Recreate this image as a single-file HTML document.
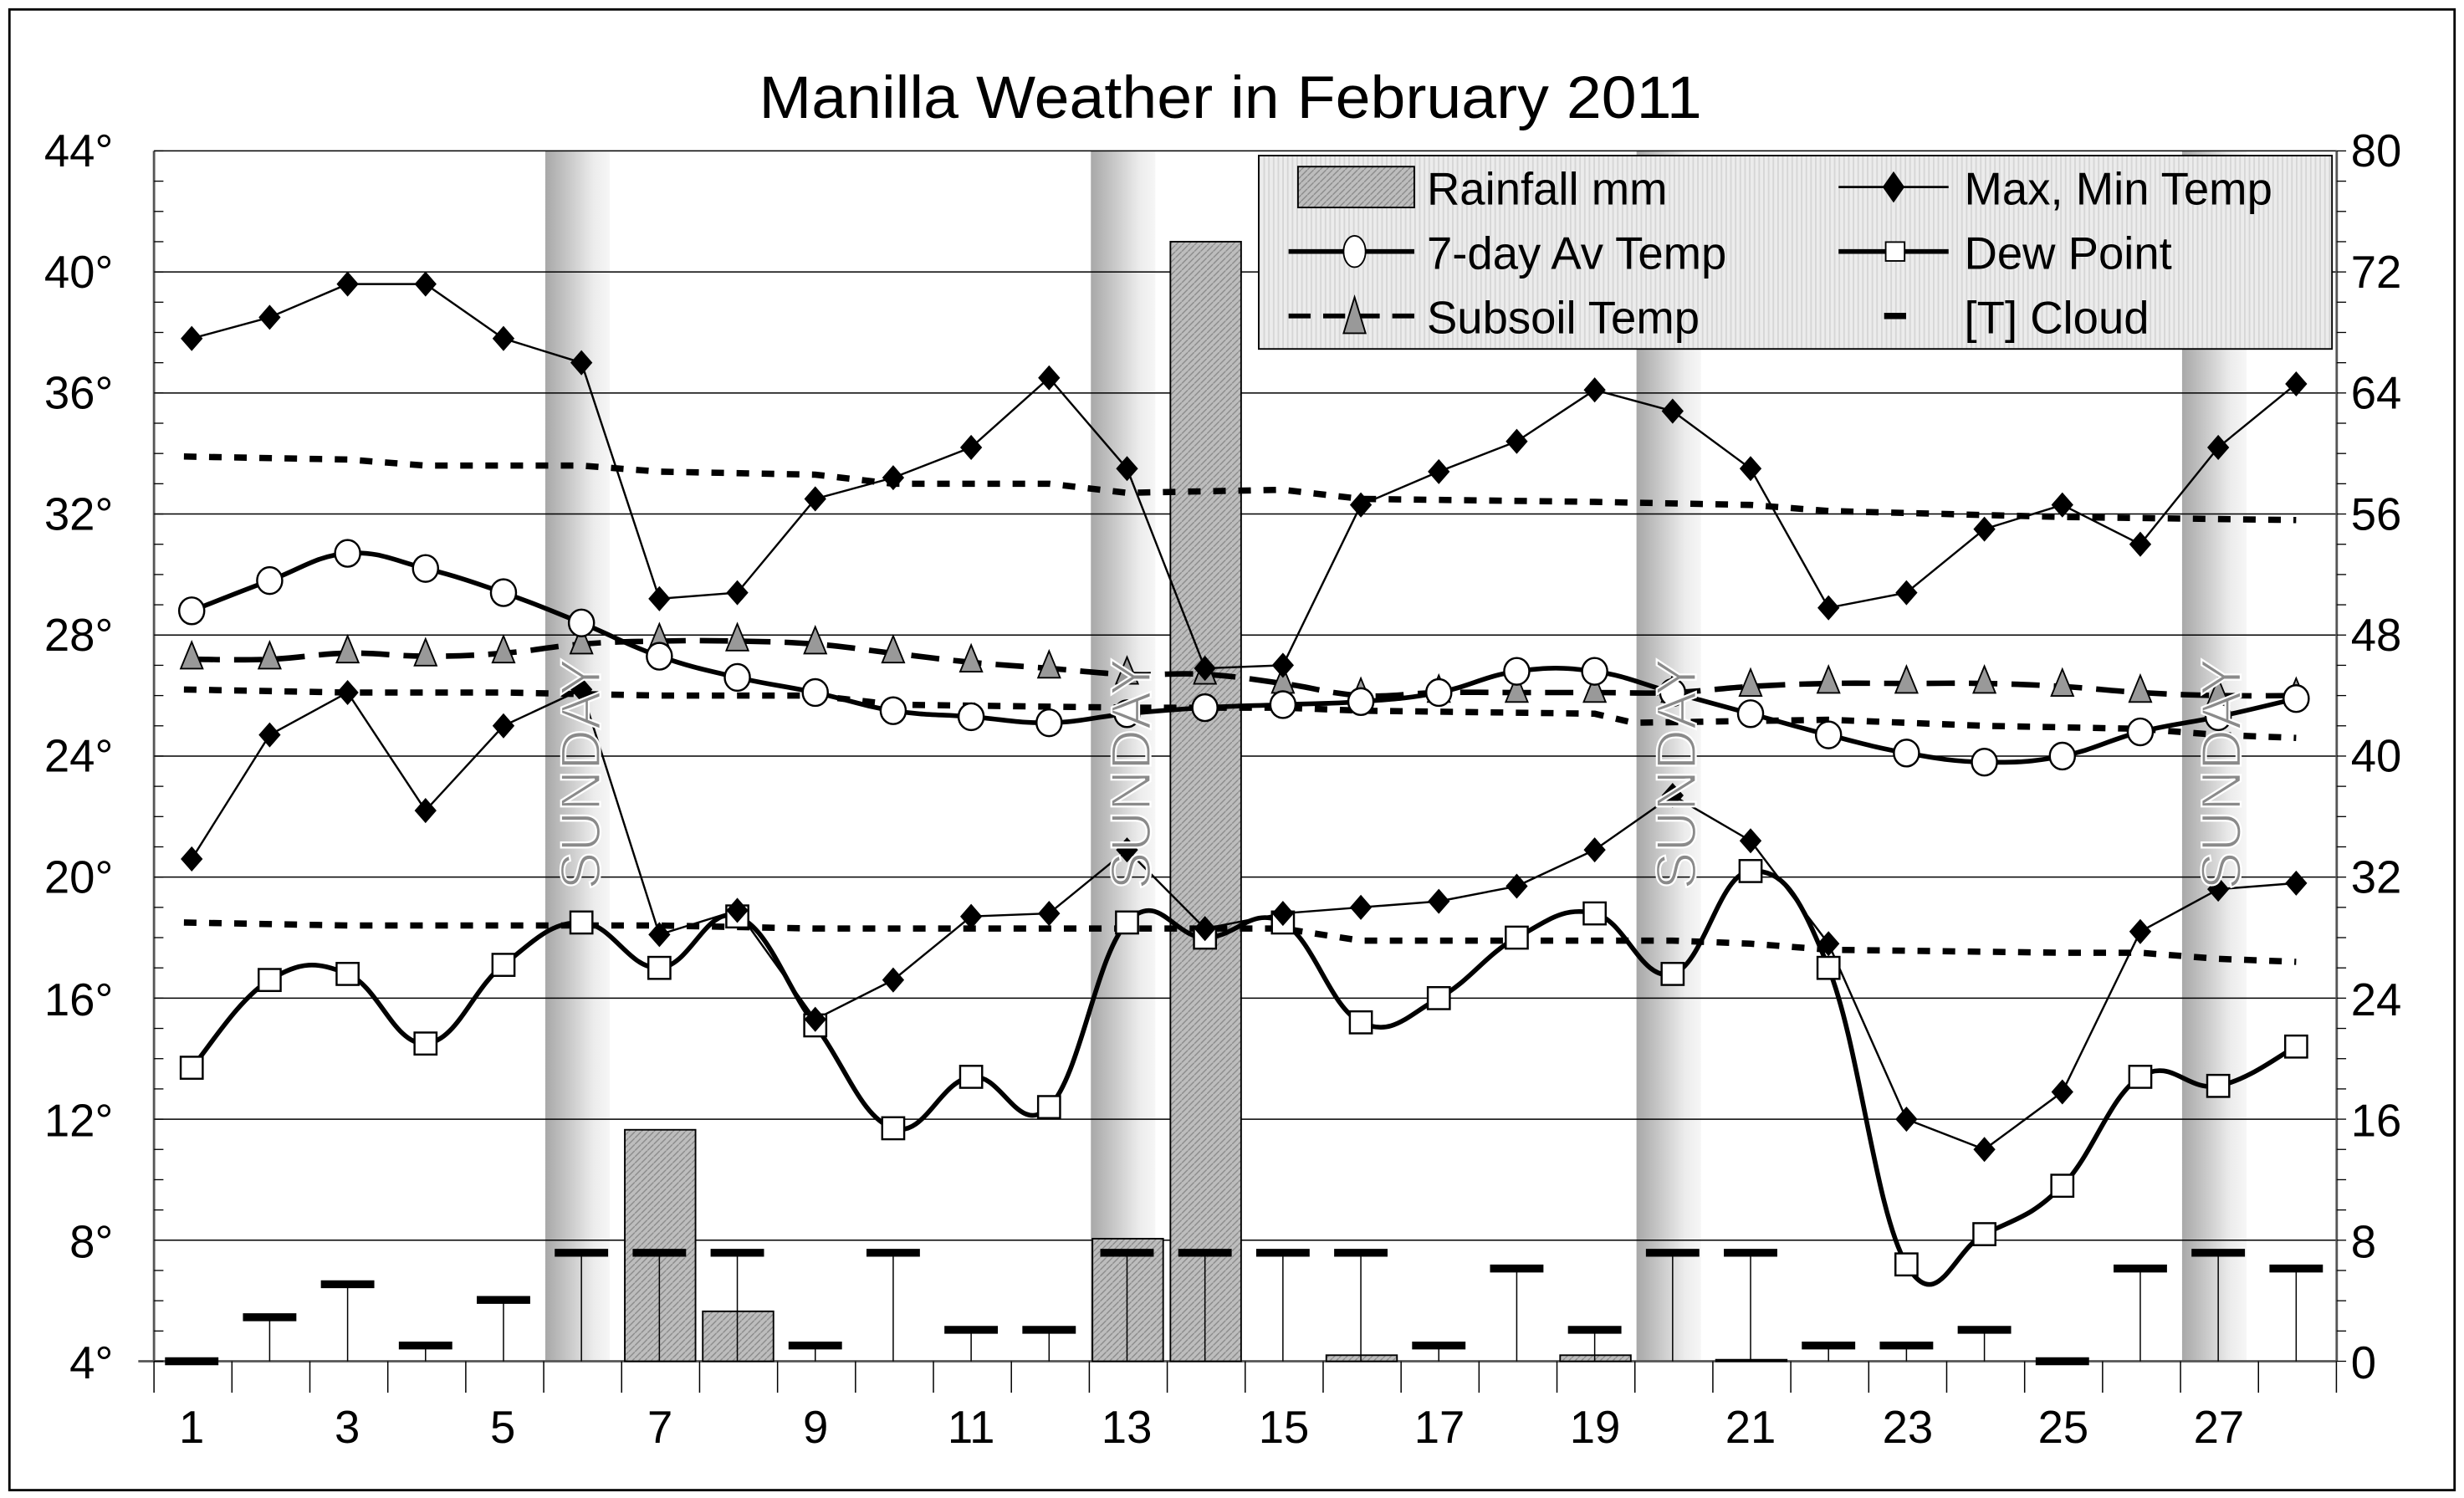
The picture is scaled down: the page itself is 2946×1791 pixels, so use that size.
<!DOCTYPE html>
<html><head><meta charset="utf-8"><style>html,body{margin:0;padding:0;background:#fff}svg{display:block}</style></head>
<body>
<svg id="s" width="2946" height="1791" viewBox="0 0 1568 953" preserveAspectRatio="none" xmlns="http://www.w3.org/2000/svg" font-family="Liberation Sans, Arial, sans-serif">
<defs>
<linearGradient id="sun" x1="0" x2="1" y1="0" y2="0">
<stop offset="0" stop-color="#a8a8a8"/><stop offset="0.45" stop-color="#d0d0d0"/><stop offset="0.75" stop-color="#ececec"/><stop offset="1" stop-color="#f6f6f6"/></linearGradient>
<pattern id="hatch" width="4" height="4" patternUnits="userSpaceOnUse"><rect width="4" height="4" fill="#bdbdbd"/><path d="M0 4L4 0" stroke="#888" stroke-width="0.7"/></pattern>
<pattern id="lg" width="3" height="3" patternUnits="userSpaceOnUse"><rect width="3" height="3" fill="#ececec"/><rect width="1" height="3" fill="#d6d6d6"/></pattern>
</defs>
<rect x="6" y="6" width="1556" height="942" fill="#fff" stroke="#000" stroke-width="1.5"/>
<text x="783" y="75" font-size="38" text-anchor="middle" textLength="600" lengthAdjust="spacingAndGlyphs">Manilla Weather in February 2011</text>
<g id="g"></g>
<g font-size="29" text-anchor="end">
<text x="72" y="106">44°</text><text x="72" y="183">40°</text><text x="72" y="260">36°</text><text x="72" y="337">32°</text><text x="72" y="414">28°</text><text x="72" y="491">24°</text><text x="72" y="568">20°</text><text x="72" y="646">16°</text><text x="72" y="723">12°</text><text x="72" y="800">8°</text><text x="72" y="877">4°</text>
</g>
<g font-size="29" text-anchor="start">
<text x="1496" y="106">80</text><text x="1496" y="183">72</text><text x="1496" y="260">64</text><text x="1496" y="337">56</text><text x="1496" y="414">48</text><text x="1496" y="491">40</text><text x="1496" y="568">32</text><text x="1496" y="646">24</text><text x="1496" y="723">16</text><text x="1496" y="800">8</text><text x="1496" y="877">0</text>
</g>
<g font-size="29" text-anchor="middle">
<text x="122" y="918">1</text><text x="221" y="918">3</text><text x="320" y="918">5</text><text x="420" y="918">7</text><text x="519" y="918">9</text><text x="618" y="918">11</text><text x="717" y="918">13</text><text x="817" y="918">15</text><text x="916" y="918">17</text><text x="1015" y="918">19</text><text x="1114" y="918">21</text><text x="1214" y="918">23</text><text x="1313" y="918">25</text><text x="1412" y="918">27</text>
</g>
<g font-size="36" fill="#8a8a8a" stroke="#fff" stroke-width="1.2">
<text transform="translate(382,566) rotate(-90)">SUNDAY</text>
<text transform="translate(732,566) rotate(-90)">SUNDAY</text>
<text transform="translate(1079,566) rotate(-90)">SUNDAY</text>
<text transform="translate(1426,566) rotate(-90)">SUNDAY</text>
</g>
<g>
<rect x="801" y="99" width="683" height="123" fill="url(#lg)" stroke="#000" stroke-width="1"/>
<rect x="826" y="106" width="74" height="26" fill="url(#hatch)" stroke="#000"/>
<text x="908" y="130" font-size="29">Rainfall mm</text>
<line x1="1170" y1="119" x2="1240" y2="119" stroke="#000" stroke-width="1.5"/><path d="M1205 109L1212 119L1205 129L1198 119Z"/>
<text x="1250" y="130" font-size="29">Max, Min Temp</text>
<line x1="820" y1="160" x2="900" y2="160" stroke="#000" stroke-width="3"/><ellipse cx="862" cy="160" rx="7" ry="10" fill="#fff" stroke="#000"/>
<text x="908" y="171" font-size="29">7-day Av Temp</text>
<line x1="1170" y1="160" x2="1240" y2="160" stroke="#000" stroke-width="3"/><rect x="1200" y="154" width="12" height="12" fill="#fff" stroke="#000"/>
<text x="1250" y="171" font-size="29">Dew Point</text>
<line x1="820" y1="201" x2="900" y2="201" stroke="#000" stroke-width="3" stroke-dasharray="14,8"/><path d="M862 189L869 212L855 212Z" fill="#999" stroke="#000"/>
<text x="908" y="212" font-size="29">Subsoil Temp</text>
<line x1="1199" y1="201" x2="1213" y2="201" stroke="#000" stroke-width="4"/>
<text x="1250" y="212" font-size="29">[T] Cloud</text>
</g>
</svg>
<script>
const g=document.getElementById('g');
let h='';
const L=98,R=1487,T=96,B=866;
const X=d=>122+49.6*(d-1);
const Y=t=>B-(t-4)*19.25;
const YR=v=>B-v*9.625;
[6,13,20,27].forEach(d=>{h+=`<rect x="${X(d)-23}" y="${T}" width="41" height="${B-T}" fill="url(#sun)"/>`;});
for(let t=8;t<=44;t+=4)h+=`<line x1="${L}" x2="${R}" y1="${Y(t)}" y2="${Y(t)}" stroke="#000" stroke-width="0.8"/>`;
h+=`<line x1="${L}" x2="${L}" y1="${T}" y2="${B}" stroke="#555" stroke-width="1.5"/>`;
h+=`<line x1="${R}" x2="${R}" y1="${T}" y2="${B}" stroke="#555" stroke-width="1.5"/>`;
h+=`<line x1="${L-10}" x2="${R}" y1="${B}" y2="${B}" stroke="#555" stroke-width="1.5"/>`;
for(let t=4;t<=44;t+=1){const y=Y(t);h+=`<line x1="${L}" x2="${L+6}" y1="${y}" y2="${y}" stroke="#000" stroke-width="0.7"/><line x1="${R}" x2="${R+6}" y1="${y}" y2="${y}" stroke="#000" stroke-width="0.7"/>`;}
for(let k=0;k<=28;k++){const x=98+49.6*k;h+=`<line x1="${x}" x2="${x}" y1="${B}" y2="${B+20}" stroke="#000" stroke-width="0.8"/>`;}
const rain={7:15.3,8:3.3,13:8.1,14:74,16:0.4,19:0.4,21:0.1};
for(const d in rain){const x=X(+d)-22,y=YR(rain[d]);h+=`<rect x="${x}" y="${y}" width="45" height="${B-y}" fill="url(#hatch)" stroke="#000" stroke-width="1"/>`;}
const cy=[866,838,817,856,827,797,797,797,856,797,846,846,797,797,797,797,856,807,846,797,797,856,856,846,866,807,797,807];
cy.forEach((y,i)=>{const x=X(i+1);h+=`<line x1="${x}" x2="${x}" y1="${y}" y2="${B}" stroke="#000" stroke-width="0.8"/><line x1="${x-17}" x2="${x+17}" y1="${y}" y2="${y}" stroke="#000" stroke-width="5"/>`;});
const poly=(a,st)=>`<polyline fill="none" ${st} points="${a.map((t,i)=>X(i+1)+','+Y(t)).join(' ')}"/>`;
const smooth=(a,st)=>{const p=a.map((t,i)=>[X(i+1),Y(t)]);let d=`M${p[0][0]},${p[0][1]}`;
for(let i=0;i<p.length-1;i++){const p0=p[i-1]||p[i],p1=p[i],p2=p[i+1],p3=p[i+2]||p2;const k=0.2;
d+=`C${p1[0]+(p2[0]-p0[0])*k},${p1[1]+(p2[1]-p0[1])*k} ${p2[0]-(p3[0]-p1[0])*k},${p2[1]-(p3[1]-p1[1])*k} ${p2[0]},${p2[1]}`;}
return `<path fill="none" ${st} d="${d}"/>`;};
const dl=(pts)=>`<polyline fill="none" stroke="#000" stroke-width="4" stroke-dasharray="8,8" points="${pts.map(p=>X(p[0])+','+Y(p[1])).join(' ')}"/>`;
h+=dl([[0.9,33.9],[3,33.8],[4,33.6],[6,33.6],[7,33.4],[9,33.3],[10,33.0],[12,33.0],[13,32.7],[15,32.8],[16,32.5],[19,32.4],[21,32.3],[22,32.1],[25,31.9],[28,31.8]]);
h+=dl([[0.9,26.2],[3,26.1],[5,26.1],[7,26.0],[9,26.0],[10,25.7],[13,25.6],[15,25.6],[16,25.5],[19,25.4],[19.5,25.1],[22,25.2],[24,25.0],[26,24.9],[27,24.7],[28,24.6]]);
h+=dl([[0.9,18.5],[3,18.4],[7,18.4],[9,18.3],[13,18.3],[15,18.3],[16,17.9],[20,17.9],[21,17.8],[22,17.6],[25,17.5],[26,17.5],[27,17.3],[28,17.2]]);
const mx=[37.8,38.5,39.6,39.6,37.8,37.0,29.2,29.4,32.5,33.2,34.2,36.5,33.5,26.9,27.0,32.3,33.4,34.4,36.1,35.4,33.5,28.9,29.4,31.5,32.3,31.0,34.2,36.3];
const mn=[20.6,24.7,26.1,22.2,25.0,26.2,18.1,18.9,15.3,16.6,18.7,18.8,20.9,18.3,18.8,19.0,19.2,19.7,20.9,22.7,21.2,17.8,12.0,11.0,12.9,18.2,19.6,19.8];
const av=[28.8,29.8,30.7,30.2,29.4,28.4,27.3,26.6,26.1,25.5,25.3,25.1,25.4,25.6,25.7,25.8,26.1,26.8,26.8,26.1,25.4,24.7,24.1,23.8,24.0,24.8,25.3,25.9];
const dp=[13.7,16.6,16.8,14.5,17.1,18.5,17.0,18.7,15.1,11.7,13.4,12.4,18.5,18.0,18.5,15.2,16.0,18.0,18.8,16.8,20.2,17.0,7.2,8.2,9.8,13.4,13.1,14.4];
const ss=[27.2,27.2,27.4,27.3,27.4,27.7,27.8,27.8,27.7,27.4,27.1,26.9,26.7,26.7,26.4,26.0,26.1,26.1,26.1,26.1,26.3,26.4,26.4,26.4,26.3,26.1,26.0,26.0];
h+=smooth(ss,'stroke="#000" stroke-width="3.5" stroke-dasharray="18,9"');
h+=smooth(av,'stroke="#000" stroke-width="3"');
h+=smooth(dp,'stroke="#000" stroke-width="3"');
h+=poly(mx,'stroke="#000" stroke-width="1.3"');
h+=poly(mn,'stroke="#000" stroke-width="1.3"');
ss.forEach((t,i)=>{const x=X(i+1),y=Y(t);h+=`<path d="M${x} ${y-11}L${x+7} ${y+6}L${x-7} ${y+6}Z" fill="#999" stroke="#000" stroke-width="1"/>`;});
av.forEach((t,i)=>{h+=`<ellipse cx="${X(i+1)}" cy="${Y(t)}" rx="8" ry="8.5" fill="#fff" stroke="#000" stroke-width="1.3"/>`;});
dp.forEach((t,i)=>{h+=`<rect x="${X(i+1)-7}" y="${Y(t)-7}" width="14" height="14" fill="#fff" stroke="#000" stroke-width="1.3"/>`;});
mx.concat(mn).forEach((t,i)=>{const x=X(i%28+1),y=Y(t);h+=`<path d="M${x} ${y-8}L${x+7} ${y}L${x} ${y+8}L${x-7} ${y}Z"/>`;});
g.innerHTML=h;
</script>
</body></html>
